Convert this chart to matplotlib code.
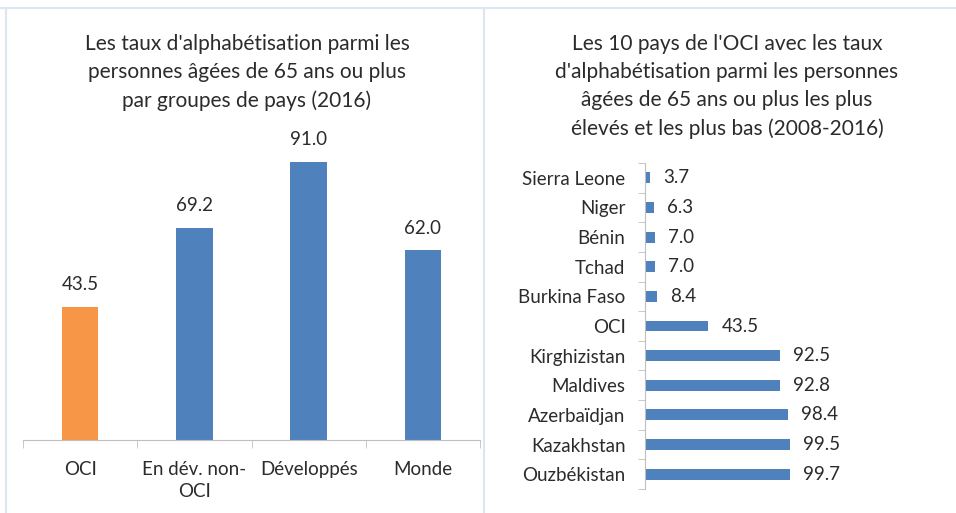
import matplotlib.pyplot as plt
from matplotlib.lines import Line2D

plt.rcParams['font.family'] = ['Lato', 'DejaVu Sans']

# left chart: literacy 65+ by country group (2016)
groups = ['OCI', 'En dév. non-\nOCI', 'Développés', 'Monde']
group_values = [43.5, 69.2, 91.0, 62.0]

# right chart: 10 OIC countries, highest and lowest (2008-2016)
countries = ['Ouzbékistan', 'Kazakhstan', 'Azerbaïdjan', 'Maldives', 'Kirghizistan',
             'OCI', 'Burkina Faso', 'Tchad', 'Bénin', 'Niger', 'Sierra Leone']
country_values = [99.7, 99.5, 98.4, 92.8, 92.5, 43.5, 8.4, 7.0, 7.0, 6.3, 3.7]

BLUE = '#4F81BD'
ORANGE = '#F79646'
AXIS = '#BFBFBF'
BORDER = '#DCE6F2'
TXT = '#2B2B2B'

W, H = 956, 513
fig = plt.figure(figsize=(W / 100, H / 100), dpi=100)


def box(x0, y0, x1, y1):
    # pixel coords (top-left origin) -> figure fraction
    return [x0 / W, 1 - y1 / H, (x1 - x0) / W, (y1 - y0) / H]


# panel borders
for xs, ys in (([0, 1], [1 - 8 / H] * 2),
               ([6 / W] * 2, [0, 1 - 8 / H]),
               ([484 / W] * 2, [0, 1 - 8 / H])):
    fig.add_artist(Line2D(xs, ys, color=BORDER, lw=1.5))

# ---- left chart
ax1 = fig.add_axes(box(23, 134, 480, 440))
x = range(len(groups))
colors = [ORANGE] + [BLUE] * (len(groups) - 1)
ax1.bar(x, group_values, width=0.32, color=colors)
for xi, v in zip(x, group_values):
    ax1.text(xi, v + 4.5, f'{v:.1f}', ha='center', va='bottom', fontsize=13.5, color=TXT)
ax1.set_xlim(-0.5, len(groups) - 0.5)
ax1.set_ylim(0, 100)
ax1.set_yticks([])
for s in ('left', 'right', 'top'):
    ax1.spines[s].set_visible(False)
ax1.spines['bottom'].set_color(AXIS)
ax1.set_xticks(list(x))
ax1.set_xticklabels(groups, fontsize=13.5, color=TXT, va='top', linespacing=1.35)
ax1.tick_params(axis='x', which='major', length=0, pad=15)
ax1.set_xticks([i - 0.5 for i in range(len(groups) + 1)], minor=True)
ax1.tick_params(axis='x', which='minor', length=6, color=AXIS)
fig.text(247 / W, 1 - 34 / H,
         "Les taux d'alphabétisation parmi les\npersonnes âgées de 65 ans ou plus\npar groupes de pays (2016)",
         ha='center', va='top', fontsize=15, color=TXT, linespacing=1.5)

# ---- right chart
ax2 = fig.add_axes(box(645, 163, 955, 489))
y = range(len(countries))
ax2.barh(y, country_values, height=0.37, color=BLUE)
for yi, v in zip(y, country_values):
    ax2.text(v + 9, yi, f'{v:.1f}', ha='left', va='center', fontsize=13.5, color=TXT)
ax2.set_ylim(-0.5, len(countries) - 0.5)
ax2.set_xlim(0, 213)
ax2.set_xticks([])
for s in ('bottom', 'right', 'top'):
    ax2.spines[s].set_visible(False)
ax2.spines['left'].set_color(AXIS)
ax2.set_yticks(list(y))
ax2.set_yticklabels(countries, fontsize=13.5, color=TXT)
ax2.tick_params(axis='y', which='major', length=0, pad=14)
ax2.set_yticks([i - 0.5 for i in range(len(countries) + 1)], minor=True)
ax2.tick_params(axis='y', which='minor', length=5, color=AXIS)
fig.text(727 / W, 1 - 34 / H,
         "Les 10 pays de l'OCI avec les taux\nd'alphabétisation parmi les personnes\nâgées de 65 ans ou plus les plus\nélevés et les plus bas (2008-2016)",
         ha='center', va='top', fontsize=15, color=TXT, linespacing=1.5)

fig.savefig('out.png', dpi=100)
